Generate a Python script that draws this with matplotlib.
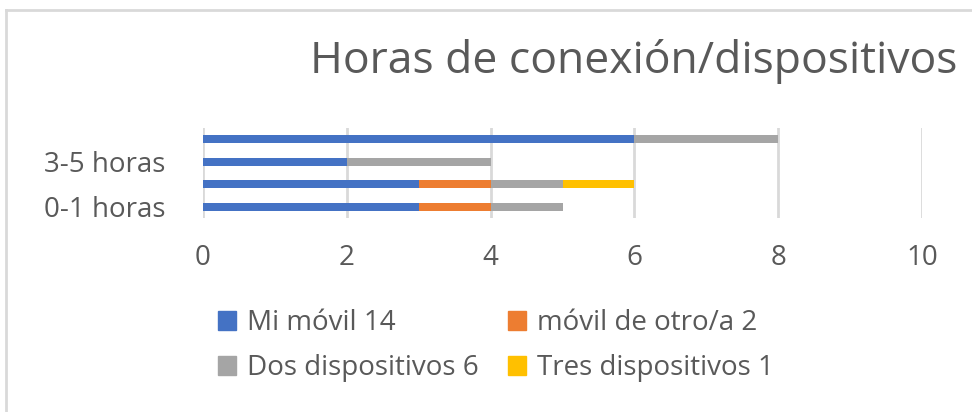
'''
    Horizontal stacked bars: hours of connection by device
'''
import matplotlib
matplotlib.use('Agg')
import matplotlib.pyplot as plt
from matplotlib.patches import Patch
from matplotlib.lines import Line2D

categories = ['0-1 horas', '', '3-5 horas', '']
mi_movil = [3, 3, 2, 6]
movil_otro = [1, 1, 0, 0]
dos_disp = [1, 1, 2, 2]
tres_disp = [0, 1, 0, 0]

series_names = ['Mi móvil 14', 'móvil de otro/a 2', 'Dos dispositivos 6', 'Tres dispositivos 1']
colors = ['#4472C4', '#ED7D31', '#A5A5A5', '#FFC000']
xticks = [0, 2, 4, 6, 8, 10]

plt.rcParams['font.family'] = ['Open Sans', 'DejaVu Sans']
text_color = '#595959'

fig = plt.figure(figsize=(9.72, 4.12), dpi=100)
ax = fig.add_axes([203 / 972, 1 - 218 / 412, 719 / 972, 90 / 412])

ypos = list(range(len(categories)))
left = [0] * len(categories)
for vals, name, col in zip([mi_movil, movil_otro, dos_disp, tres_disp], series_names, colors):
    ax.barh(ypos, vals, left=left, height=0.36, color=col, label=name, zorder=3)
    left = [l + v for l, v in zip(left, vals)]

ax.set_xlim(0, 10)
ax.set_ylim(-0.5, 3.5)
ax.set_xticks(xticks)
ax.set_yticks(ypos)
ax.set_yticklabels(categories)
ax.grid(axis='x', color='#d9d9d9', linewidth=2, zorder=0)
for s in ax.spines.values():
    s.set_visible(False)
ax.tick_params(axis='both', length=0, labelsize=20, colors=text_color)
ax.tick_params(axis='y', pad=27)
ax.tick_params(axis='x', pad=19)

fig.text(310 / 972, 1 - 62 / 412, 'Horas de conexión/dispositivos', fontsize=32,
         color=text_color, ha='left', va='center')

handles = [Patch(color=c) for c in colors]
order = [0, 2, 1, 3]
fig.legend([handles[i] for i in order], [series_names[i] for i in order], ncol=2,
           loc='upper left', bbox_to_anchor=(218 / 972, 1 - 309 / 412), frameon=False,
           fontsize=20, labelcolor=text_color, handlelength=0.65, handleheight=0.65,
           handletextpad=0.4, columnspacing=1.05, labelspacing=0.62,
           borderpad=0, borderaxespad=0)

# outer chart border (cropped on right/bottom)
fig.add_artist(Line2D([6 / 972, 6 / 972], [0, 1 - 10 / 412], color='#d9d9d9', linewidth=2))
fig.add_artist(Line2D([6 / 972, 1], [1 - 10 / 412, 1 - 10 / 412], color='#d9d9d9', linewidth=2))

fig.savefig('out.png', dpi=100)
